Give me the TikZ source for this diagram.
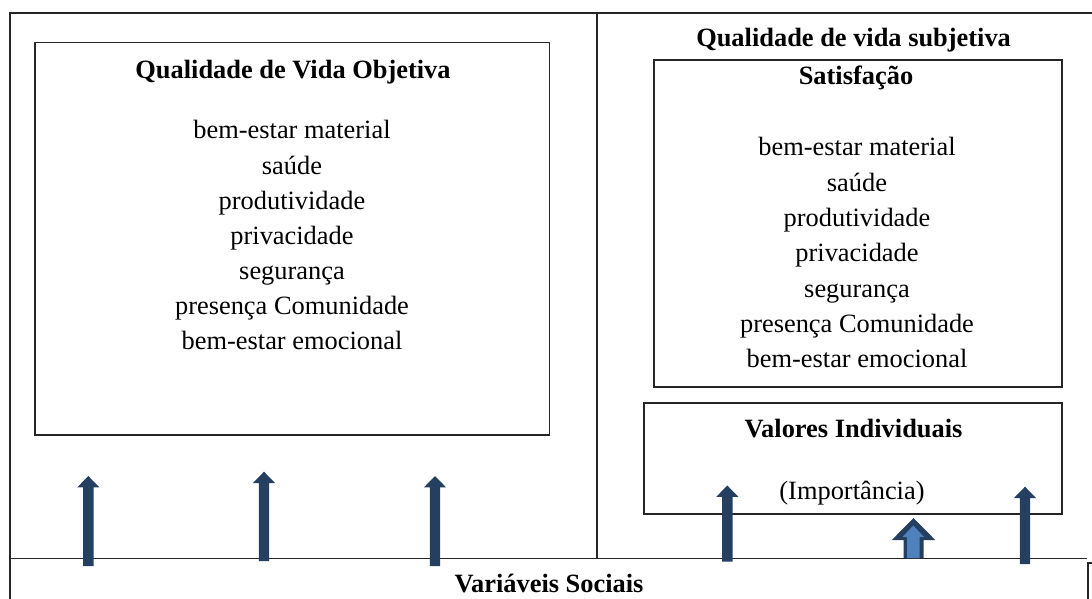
\documentclass[tikz,border=0pt]{standalone}
\usepackage{fontspec}
\setmainfont{Liberation Serif}
\definecolor{navy}{HTML}{243F60}
\definecolor{lightblue}{HTML}{4F81BD}
\newcommand{\UpArr}[3]{%
  \fill[navy] ({#1-5.2},{#3}) -- ({#1-5.2},{#2+11.3}) -- ({#1-11},{#2+11.3}) -- ({#1},{#2})
    -- ({#1+11},{#2+11.3}) -- ({#1+5.2},{#2+11.3}) -- ({#1+5.2},{#3}) -- cycle;}
\begin{document}
\begin{tikzpicture}[x=1pt,y=-1pt,
  frame/.style={draw=black!85,line width=1.6pt},
  box/.style={draw=black!85,line width=1.3pt,rectangle,inner sep=0pt},
  lbl/.style={anchor=base,inner sep=0pt,font=\fontsize{26.4}{30}\selectfont},
  ttl/.style={anchor=base,inner sep=0pt,font=\fontsize{26.4}{30}\selectfont\bfseries}]
\useasboundingbox (0,0) rectangle (1092,599);
% frame
\draw[frame] (10,599) -- (10,13) -- (1092,13);
\draw[frame] (597,13) -- (597,558.5);
\draw[frame] (10,558.5) -- (1087,558.5);
\draw[frame] (1088,599) -- (1088,563) -- (1092,563);
% boxes
\node[box,minimum width=514.5pt,minimum height=392.5pt] (objbox) at (292.25,238.75) {};
\node[box,minimum width=408pt,minimum height=327pt] (satbox) at (858,223.5) {};
\node[box,minimum width=418pt,minimum height=111pt] (valbox) at (853,458.5) {};
% titles
\node[ttl] (objtitle) at (293,79) {Qualidade de Vida Objetiva};
\node[ttl] (subtitle) at (853.6,47) {Qualidade de vida subjetiva};
\node[ttl] (sattitle) at (856,85) {Satisfação};
\node[ttl] (valtitle) at (853.5,437) {Valores Individuais};
\node[lbl] (imp) at (852,499) {(Importância)};
\node[ttl] (soc) at (549,592) {Variáveis Sociais};
% lists
\foreach \t [count=\i from 0] in {bem-estar material,saúde,produtividade,privacidade,segurança,presença Comunidade,bem-estar emocional}{
  \node[lbl] (obj\i) at (292,{139+35*\i}) {\t};
  \node[lbl] (sat\i) at (857,{156+35.3*\i}) {\t};
}
% arrows
\UpArr{88.3}{476}{566}
\UpArr{264}{471.7}{561}
\UpArr{435}{476}{566}
\UpArr{727.3}{485.5}{561.7}
\UpArr{1025}{486.7}{564}
% double arrow
\fill[navy] (903.5,558) -- (903.5,540) -- (891.8,540) -- (913.5,518) -- (935.2,540) -- (923.5,540) -- (923.5,558) -- cycle;
\fill[lightblue] (907,558) -- (907,537) -- (902.5,537) -- (913.3,525.5) -- (924,537) -- (919.5,537) -- (919.5,558) -- cycle;
\end{tikzpicture}
\end{document}
